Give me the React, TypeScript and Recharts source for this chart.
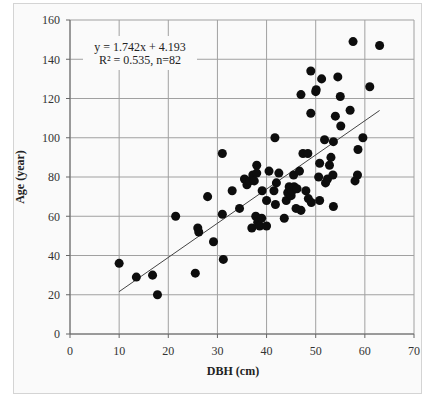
import { CartesianGrid, Label, Scatter, ScatterChart, XAxis, YAxis } from "recharts";

// DBH (cm) vs age (year)
const dbh = [
  10, 13.5, 16.8, 17.8, 21.5, 25.5, 26, 26.2, 28, 29.2, 31, 31, 31.2, 33, 34.5,
  35.5, 36, 36.6, 37.2, 37.5, 38, 38, 37, 37.8, 38.2, 38.6, 39, 39.1, 40, 40,
  40.5, 41.7, 41.5, 41.8, 42, 42.5, 43.6, 44, 44.3, 44.6, 45, 45.2, 45.5, 45.6,
  46, 46.2, 46.7, 47, 47, 47.4, 48, 48.4, 48.5, 49, 49, 49.1, 50, 50.1, 50.6,
  50.8, 50.8, 51.2, 51.8, 52, 52.4, 52.8, 53.1, 53.6, 53.5, 53.6, 54, 54.5, 55,
  55.1, 57, 57.6, 58, 58.5, 58.6, 59.6, 61, 63,
];
const age = [
  36, 29, 30, 20, 60, 31, 54, 52, 70, 47, 92, 61, 38, 73, 64, 79, 76, 78, 81,
  78, 86, 82, 54, 60, 57, 55, 59, 73, 55, 68, 83, 100, 73, 66, 77, 82, 59, 68,
  72, 75, 70.5, 73, 81, 75, 64, 74, 83, 63, 122, 92, 73, 92, 69, 134, 112.5,
  67, 123.5, 124.5, 80, 87, 68, 130, 99, 77, 79, 86, 90, 98, 81, 65, 111, 131,
  121, 106, 114, 149, 78, 81, 94, 100, 126, 147,
];

// fitted line y = 1.742x + 4.193, end points
const trendX = [10, 63];
const trendY = [21.6, 113.9];

const xTicks = [0, 10, 20, 30, 40, 50, 60, 70];
const yTicks = [0, 20, 40, 60, 80, 100, 120, 140, 160];

const points = dbh.map((x, i) => ({ x, y: age[i] }));
const trend = trendX.map((x, i) => ({ x, y: trendY[i] }));

const font = "'Liberation Serif', 'Times New Roman', serif";

export default function App() {
  return (
    <div style={{ position: "absolute", left: 0, top: 0, width: 422, height: 394, background: "#fff" }}>
      <div
        style={{
          position: "absolute",
          left: 13,
          top: 3,
          width: 407,
          height: 389,
          border: "1px solid #d4d4d4",
          background: "#fafafa",
        }}
      />
      <div style={{ position: "absolute", left: 0, top: 0 }}>
        <ScatterChart
          width={422}
          height={394}
          margin={{ top: 20, right: 8, bottom: 15, left: 0 }}
          style={{ fontFamily: font }}
        >
          <CartesianGrid stroke="#a0a0a0" strokeWidth={1} />
          <XAxis
            type="number"
            dataKey="x"
            domain={[0, 70]}
            ticks={xTicks}
            height={45}
            tickSize={4}
            tickMargin={8}
            stroke="#666"
            tick={{ fill: "#333", fontSize: 12, fontFamily: font }}
          >
            <Label
              value="DBH (cm)"
              position="insideBottom"
              offset={4}
              dx={-9}
              style={{ fill: "#222", fontSize: 12, fontWeight: "bold", fontFamily: font }}
            />
          </XAxis>
          <YAxis
            type="number"
            dataKey="y"
            domain={[0, 160]}
            ticks={yTicks}
            width={70}
            tickSize={4}
            tickMargin={6}
            stroke="#666"
            tick={{ fill: "#333", fontSize: 12, fontFamily: font }}
          >
            <Label
              value="Age (year)"
              angle={-90}
              position="insideLeft"
              offset={20}
              style={{ textAnchor: "middle", fill: "#222", fontSize: 12, fontWeight: "bold", fontFamily: font }}
            />
          </YAxis>
          <Scatter
            data={trend}
            line={{ stroke: "#444", strokeWidth: 1 }}
            shape={() => null}
            isAnimationActive={false}
          />
          <Scatter data={points} fill="#0d0d0d" isAnimationActive={false} />
        </ScatterChart>
      </div>
      <div
        style={{
          position: "absolute",
          left: 83,
          top: 36,
          width: 114,
          height: 34,
          paddingTop: 5,
          boxSizing: "border-box",
          background: "#fafafa",
          fontFamily: font,
          fontSize: 12,
          lineHeight: "13px",
          color: "#222",
          textAlign: "center",
        }}
      >
        y = 1.742x + 4.193
        <br />
        R² = 0.535, n=82
      </div>
    </div>
  );
}
